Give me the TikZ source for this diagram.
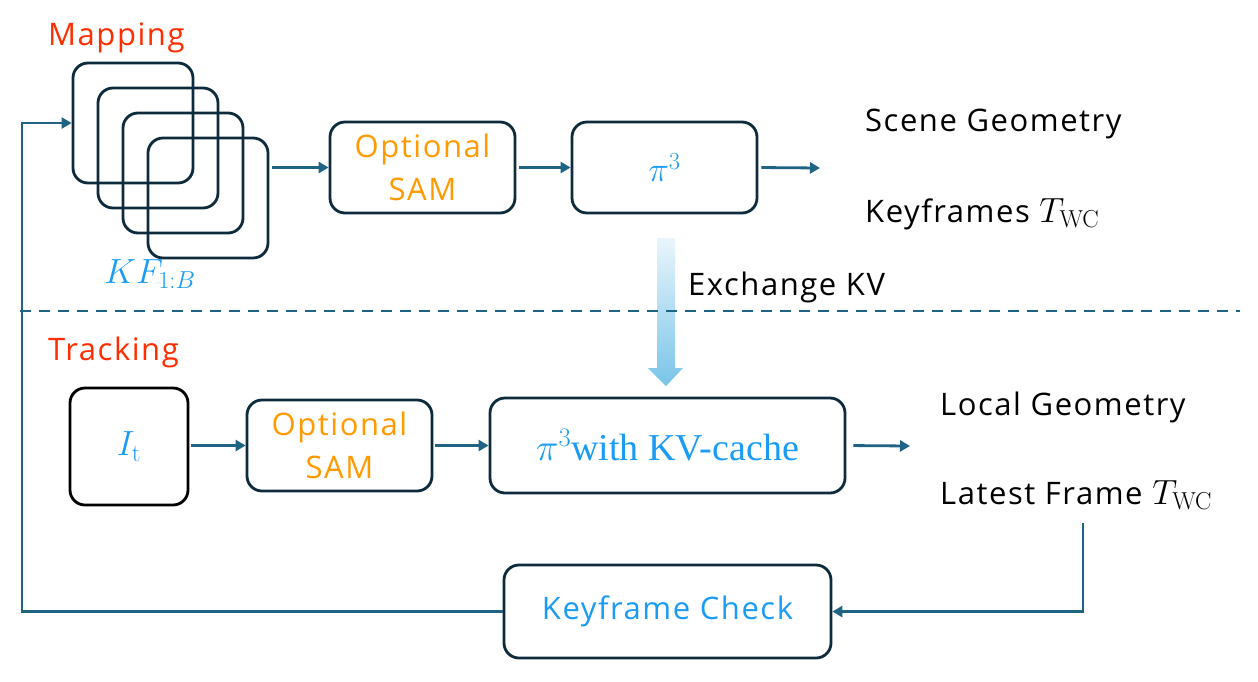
\RequirePackage{fix-cm}
\documentclass[tikz,border=0pt]{standalone}
\usepackage[no-math]{fontspec}
\setmainfont{Open Sans}[LetterSpace=5]
\newfontfamily\serifcam{Liberation Serif}
\usetikzlibrary{arrows.meta,positioning}
\definecolor{linkblue}{HTML}{1F6385}
\definecolor{framedark}{HTML}{0D2B3C}
\definecolor{txtblue}{HTML}{1A9BF5}
\definecolor{txtorange}{HTML}{FF9A00}
\definecolor{txtred}{HTML}{FF2D00}
\definecolor{exlight}{HTML}{EAF5FC}
\definecolor{exdark}{HTML}{78C4E8}

\begin{document}
\begin{tikzpicture}[x=1pt,y=-1pt,
  blk/.style={draw=framedark, line width=2.8pt, rounded corners=15pt, inner sep=0pt, align=center, font=\fontsize{31}{43}\selectfont},
  link/.style={draw=linkblue, line width=2.8pt, -{Triangle[length=10pt,width=11pt]}},
  lbl/.style={anchor=base west, inner sep=0pt, font=\fontsize{31}{37}\selectfont},
  bigmath/.style={font=\fontsize{35}{42}\selectfont}]
  \useasboundingbox (0,0) rectangle (1258,681);
  % mapping thread
  \node[lbl, text=txtred] (maptitle) at (48,45) {Mapping};
  \foreach \i in {1,...,4}
    \node[blk, minimum width=120pt, minimum height=120pt] (kf\i) at ({108+25*\i},{98+25*\i}) {};
  \node[lbl, anchor=center, text=txtblue, bigmath] (kflbl) at (150,274) {$KF_{1:B}$};
  \node[blk, minimum width=185pt, minimum height=91pt, text=txtorange] (sam1) at (422.5,167.5) {Optional\\SAM};
  \node[blk, minimum width=185pt, minimum height=91pt, text=txtblue, bigmath] (pi1) at (664.5,167.5) {$\pi^3$};
  \coordinate (out1) at (820,168);
  \node[lbl] (scene) at (865,131) {Scene Geometry};
  \node[lbl] (kfpose) at (865,222) {Keyframes {\fontsize{35}{37}\selectfont$T_{\mathrm{WC}}$}};
  \draw[link, shorten <=3pt] (kf4.east |- sam1.west) -- (sam1.west);
  \draw[link, shorten <=3pt] (sam1.east) -- (pi1.west);
  \draw[link, shorten <=3pt] (pi1.east) -- (out1);
  % exchange between threads
  \shade[top color=exlight, bottom color=exdark] (657,238) -- (675,238) -- (675,368) -- (683,368) -- (666,386) -- (648,368) -- (657,368) -- cycle;
  \node[lbl] (exch) at (688,295) {Exchange KV};
  \draw[linkblue, line width=2.5pt, dash pattern=on 11pt off 8pt] (20,311) -- (1240,311);
  % tracking thread
  \node[lbl, text=txtred] (tracktitle) at (48,360) {Tracking};
  \node[blk, draw=black, minimum width=118pt, minimum height=117pt, text=txtblue, bigmath] (cur) at (129,446.5) {$I_{\mathrm{t}}$};
  \node[blk, minimum width=185pt, minimum height=91pt, text=txtorange] (sam2) at (339.5,445.5) {Optional\\SAM};
  \node[blk, minimum width=355pt, minimum height=95pt, text=txtblue, font=\fontsize{38}{42}\selectfont] (pikv) at (667.5,445.5) {$\pi^3${\serifcam with KV-cache}};
  \coordinate (out2) at (910,446);
  \node[lbl] (localgeo) at (940,415) {Local Geometry};
  \node[lbl] (latest) at (940,504) {Latest Frame {\fontsize{35}{37}\selectfont$T_{\mathrm{WC}}$}};
  \coordinate (fb) at (1083,523);
  \node[blk, minimum width=327pt, minimum height=93pt, text=txtblue] (kfcheck) at (667.5,611.5) {Keyframe Check};
  \coordinate (loop) at (22,611.5);
  \draw[link, shorten <=2pt] (cur.east |- sam2.west) -- (sam2.west);
  \draw[link, shorten <=2pt] (sam2.east) -- (pikv.west);
  \draw[link, shorten <=7pt] (pikv.east) -- (out2);
  % keyframe feedback
  \draw[link] (fb) |- (kfcheck.east);
  \draw[link] (kfcheck.west) -- (loop) |- (kf1.west);
\end{tikzpicture}
\end{document}
